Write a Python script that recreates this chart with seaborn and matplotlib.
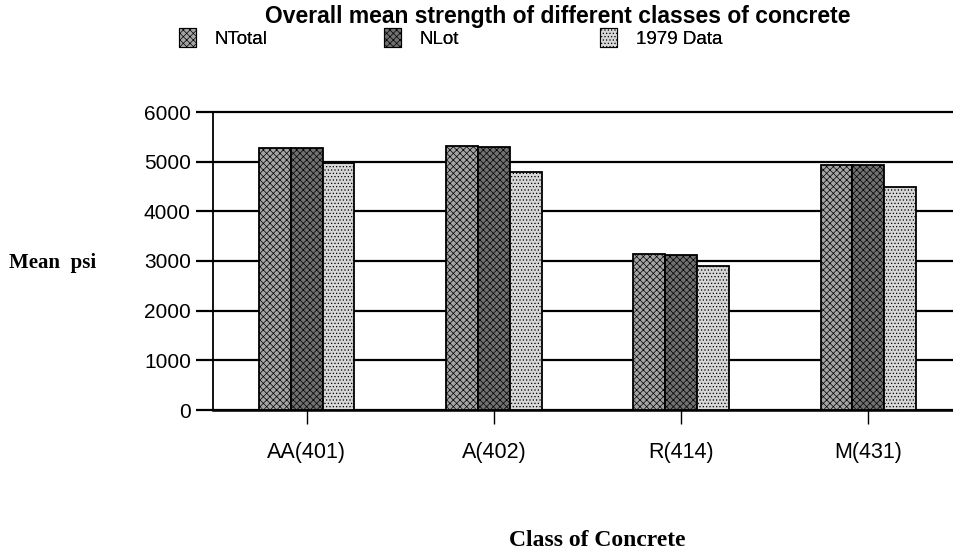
import matplotlib
matplotlib.use("Agg")
import matplotlib.pyplot as plt
import seaborn as sns
import pandas as pd
from matplotlib.patches import Patch

categories = ["AA(401)", "A(402)", "R(414)", "M(431)"]
series_names = ["NTotal", "NLot", "1979 Data"]
ntotal = [5270, 5320, 3150, 4930]
nlot = [5270, 5300, 3120, 4930]
data1979 = [4970, 4800, 2900, 4480]
yticks = [0, 1000, 2000, 3000, 4000, 5000, 6000]

df = pd.DataFrame({
    "Class": categories * 3,
    "Series": [series_names[0]] * 4 + [series_names[1]] * 4 + [series_names[2]] * 4,
    "Mean": ntotal + nlot + data1979,
})

sns.set_theme(style="white")
plt.rcParams["font.family"] = ["Liberation Sans", "DejaVu Sans"]
plt.rcParams["hatch.color"] = "black"
plt.rcParams["hatch.linewidth"] = 0.5
plt.rcParams["text.color"] = "black"
plt.rcParams["xtick.color"] = "black"
plt.rcParams["ytick.color"] = "black"
plt.rcParams["axes.labelcolor"] = "black"

fig = plt.figure(figsize=(9.54, 5.6), dpi=100)
ax = fig.add_axes([213 / 954, 1 - 410 / 560, (962 - 213) / 954, (410 - 112) / 560])

face = ["#a4a4a4", "#707070", "#d6d6d6"]
hatches = ["xxxxx", "xxxxx", "....."]

sns.barplot(data=df, x="Class", y="Mean", hue="Series", hue_order=series_names,
            palette=face, width=0.51, gap=0, ax=ax, legend=False, zorder=3,
            edgecolor="black", linewidth=1.3, saturation=1)

for cont, h in zip(ax.containers, hatches):
    for p in cont.patches:
        p.set_hatch(h)

ax.set_ylim(0, 6000)
ax.set_xlim(-0.5, 3.5)
ax.set_yticks(yticks)
ax.set_yticklabels([str(v) for v in yticks], fontsize=15, color="black")
ax.yaxis.grid(True, color="black", linewidth=1.6, zorder=0)
for gl in ax.get_ygridlines():
    gl.set_clip_on(False)
ax.set_axisbelow(True)
for s in ["top", "right"]:
    ax.spines[s].set_visible(False)
ax.spines["left"].set_color("black")
ax.spines["left"].set_linewidth(1.3)
ax.spines["bottom"].set_color("black")
ax.spines["bottom"].set_linewidth(1.8)
ax.tick_params(axis="y", length=12, width=1.6, color="black", pad=4, left=True, labelcolor="black")
ax.tick_params(axis="x", length=10, width=1.0, color="black", pad=13, bottom=True,
               labelsize=15.5, labelcolor="black")
ax.set_xlabel("")
ax.set_ylabel("")

fig.text(558 / 954, 1 - 17 / 560, "Overall mean strength of different classes of concrete",
         ha="center", va="center", fontsize=16.5, fontweight="bold", color="black")

leg_x = [182, 387, 603]
for i, name in enumerate(series_names):
    handle = Patch(facecolor=face[i], edgecolor="black", hatch=hatches[i], linewidth=0.8)
    leg = fig.legend(handles=[handle], labels=[name], loc="center left",
                     bbox_to_anchor=(leg_x[i] / 954 - 0.003, 1 - 38 / 560), frameon=False,
                     fontsize=13.5, handlelength=0.9, handleheight=1.2, handletextpad=1.0,
                     borderaxespad=0, borderpad=0, labelcolor="black")
    fig.add_artist(leg)

fig.text(53 / 954, 1 - 263 / 560, "Mean  psi", ha="center", va="center", color="black",
         fontsize=15, fontweight="bold", family=["Liberation Serif", "DejaVu Serif"])
fig.text(597 / 954, 1 - 540 / 560, "Class of Concrete", ha="center", va="center", color="black",
         fontsize=17, fontweight="bold", family=["Liberation Serif", "DejaVu Serif"])

fig.savefig("out.png", dpi=100)
